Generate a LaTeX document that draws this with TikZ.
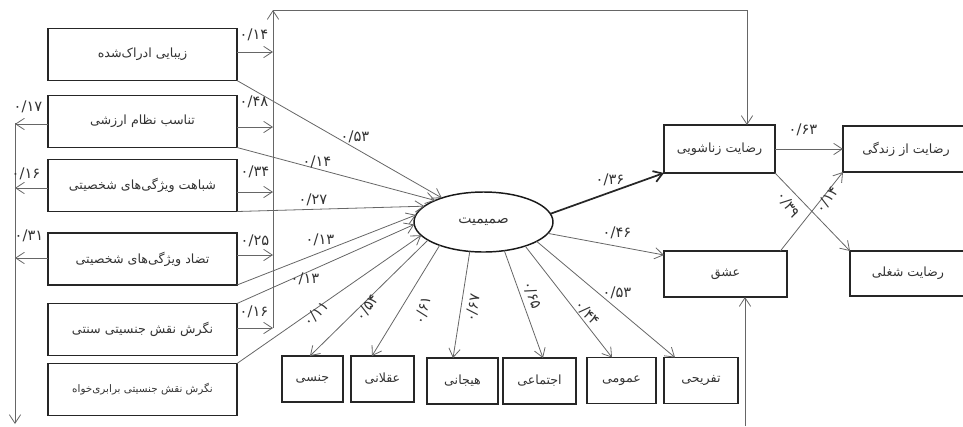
\documentclass[tikz,border=0pt]{standalone}
\usepackage{fontspec}
\setmainfont{DejaVu Sans}
\newfontfamily\fa[Script=Arabic]{DejaVu Sans}
\TeXXeTstate=1
\usetikzlibrary{arrows.meta,shapes.geometric}
\newcommand{\rt}[1]{\beginR #1\endR}
\begin{document}
\begin{tikzpicture}[x=0.75pt,y=-0.75pt,
  bx/.style={draw=black!85, line width=1.1pt, inner sep=0pt, outer sep=0pt, text=black!80,
    font=\fa\fontsize{9.5}{11}\selectfont},
  lbox/.style={bx, minimum width=141.75pt, minimum height=39pt},
  sbox/.style={bx, minimum width=#1, minimum height=34.5pt},
  arr/.style={draw=black!60, line width=0.6pt, -{Straight Barb[length=6.5pt,width=8.5pt]}},
  lab/.style={font=\fa\fontsize{11}{12}\selectfont, text=black!80, inner sep=0pt}]
\useasboundingbox (0,0) rectangle (963,426);
% left boxes
\node[lbox] (b1) at (142.5,54.5) {\rt{زیبایی ادراک^^^^200cشده}};
\node[lbox] (b2) at (142.5,121.5) {\rt{تناسب نظام ارزشی}};
\node[lbox] (b3) at (142.5,185.5) {\rt{شباهت ویژگی^^^^200cهای شخصیتی}};
\node[lbox] (b4) at (142.5,259) {\rt{تضاد ویژگی^^^^200cهای شخصیتی}};
\node[lbox] (b5) at (142.5,329.5) {\rt{نگرش نقش جنسیتی سنتی}};
\node[lbox, font=\fa\fontsize{7.8}{9}\selectfont] (b6) at (142.5,389.5) {\rt{نگرش نقش جنسیتی برابری^^^^200cخواه}};
% ellipse
\node[ellipse, draw=black!90, line width=1.1pt, minimum width=104.25pt, minimum height=45pt,
  inner sep=0pt, outer sep=0pt, text=black!80, font=\fa\fontsize{10.5}{12}\selectfont] (e) at (483.5,222) {\rt{صمیمیت}};
% bottom boxes
\node[sbox=45.75pt] (s1) at (312.5,379) {\rt{جنسی}};
\node[sbox=47.25pt] (s2) at (382.5,379) {\rt{عقلانی}};
\node[sbox=53.25pt] (s3) at (462.5,381) {\rt{هیجانی}};
\node[sbox=54.75pt] (s4) at (539.5,381) {\rt{اجتماعی}};
\node[sbox=51.75pt] (s5) at (621.5,380.5) {\rt{عمومی}};
\node[sbox=55.5pt] (s6) at (701,380.5) {\rt{تفریحی}};
% right boxes
\node[bx, minimum width=83.25pt, minimum height=36pt] (m) at (719.5,149) {\rt{رضایت زناشویی}};
\node[bx, minimum width=92.25pt, minimum height=34.5pt] (k) at (725.5,274) {\rt{عشق}};
\node[bx, minimum width=94.5pt, minimum height=34.5pt] (z) at (906,149) {\rt{رضایت از زندگی}};
\node[bx, minimum width=87pt, minimum height=33.75pt] (j) at (908,273.5) {\rt{رضایت شغلی}};
% trunk coordinates
\coordinate (rtop) at (273,10);
\coordinate (rbot) at (273,328);
\coordinate (ktop) at (747,10);
\coordinate (ltop) at (15,123);
\coordinate (lbot) at (15,424);
\coordinate (kb) at (745,426);
\coordinate (r1) at (273,52);
\coordinate (r2) at (273,127);
\coordinate (r3) at (273,192);
\coordinate (r4) at (273,255);
\coordinate (r5) at (273,328);
\coordinate (l2) at (15,124);
\coordinate (l3) at (15,188);
\coordinate (l4) at (15,258);
% right trunk
\draw[arr] (b1.east |- r1) -- (r1);
\draw[arr] (b2.east |- r2) -- (r2);
\draw[arr] (b3.east |- r3) -- (r3);
\draw[arr] (b4.east |- r4) -- (r4);
\draw[arr] (b5.east |- r5) -- (r5);
\draw[arr] (rbot) -- (rtop);
\draw[arr] (rtop) -- (ktop) -- (m.north -| ktop);
% left trunk
\draw[arr] (b2.west |- l2) -- (l2);
\draw[arr] (b3.west |- l3) -- (l3);
\draw[arr] (b4.west |- l4) -- (l4);
\draw[arr] (ltop) -- (lbot);
% bottom to love
\draw[arr] (kb) -- (k.south -| kb);
% boxes to ellipse
\draw[arr] (b1.south east) -- (e.150);
\draw[arr] (b2.south east) -- (e.156);
\draw[arr] (b3.south east) -- (e.165);
\draw[arr] (b4.south east) -- (e.174);
\draw[arr] (b5.north east) -- (e.182);
\draw[arr] (b6.north east) -- (e.192);
% ellipse to bottom boxes
\draw[arr] (e.198) -- ([xshift=-1.9pt]s1.north);
\draw[arr] (e.208) -- ([xshift=-7.9pt]s2.north);
\draw[arr] (e.245) -- ([xshift=-7.1pt]s3.north);
\draw[arr] (e.306) -- ([xshift=2.6pt]s4.north);
\draw[arr] (e.330) -- ([xshift=-7.1pt]s5.north);
\draw[arr] (e.340) -- ([xshift=-19.5pt]s6.north);
% ellipse to right
\draw[arr, draw=black!85, line width=1.3pt] (e.7) -- (m.south west);
\draw[arr] (e.350) -- ([yshift=-3pt]k.north west);
\draw[arr] (m.east) -- (z.west);
\draw[arr] (m.south east) -- (j.north west);
\draw[arr] ([xshift=-5pt]k.north east) -- (z.south west);
% labels
\node[lab] (t1) at (254,35) {۰/۱۴};
\node[lab] (t2) at (254,102) {۰/۴۸};
\node[lab] (t3) at (255,172) {۰/۳۴};
\node[lab] (t4) at (255,241) {۰/۲۵};
\node[lab] (t5) at (254,312) {۰/۱۶};
\node[lab] (u2) at (28,107) {۰/۱۷};
\node[lab] (u3) at (26,174) {۰/۱۶};
\node[lab] (u4) at (29,236) {۰/۳۱};
\node[lab] (v1) at (355,137) {۰/۵۳};
\node[lab] (v2) at (317,162) {۰/۱۴};
\node[lab] (v3) at (313,200) {۰/۲۷};
\node[lab] (v4) at (320,240) {۰/۱۳};
\node[lab] (v5) at (305,279) {۰/۱۳};
\node[lab, rotate=45] (w1) at (316,314) {۰/۱۱};
\node[lab, rotate=55] (w2) at (367,308) {۰/۵۴};
\node[lab, rotate=75] (w3) at (423,310) {۰/۶۱};
\node[lab, rotate=80] (w4) at (473,308) {۰/۶۷};
\node[lab, rotate=-70] (w5) at (532,295) {۰/۶۵};
\node[lab, rotate=-48] (w6) at (587,313) {۰/۴۴};
\node[lab] (w7) at (617,293) {۰/۵۳};
\node[lab] (x1) at (610,180) {۰/۳۶};
\node[lab] (x2) at (617,233) {۰/۴۶};
\node[lab] (x3) at (803,130) {۰/۶۳};
\node[lab, rotate=-55] (x4) at (788,205) {۰/۳۹};
\node[lab, rotate=55] (x5) at (827,200) {۰/۱۴};
\end{tikzpicture}
\end{document}
